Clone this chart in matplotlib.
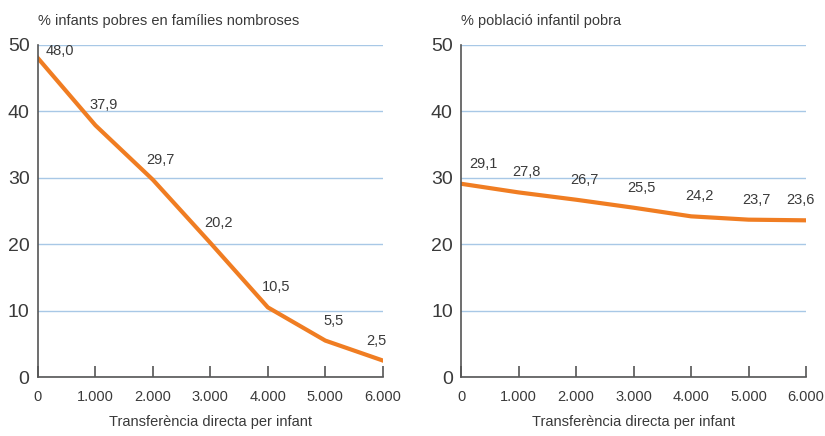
import matplotlib

matplotlib.use("Agg")
import matplotlib.pyplot as plt
from matplotlib.ticker import FuncFormatter

# Data
TRANSFER = [0, 1000, 2000, 3000, 4000, 5000, 6000]
LARGE_FAMILIES = [48.0, 37.9, 29.7, 20.2, 10.5, 5.5, 2.5]
ALL_CHILDREN = [29.1, 27.8, 26.7, 25.5, 24.2, 23.7, 23.6]
TITLES = ["% infants pobres en famílies nombroses", "% població infantil pobra"]
XLABEL = "Transferència directa per infant"

ORANGE = "#f07d22"
GRID = "#a8c8e6"
SPINE = "#555555"
TEXT = "#3a3a3a"

plt.rcParams.update({"font.family": ["Liberation Sans", "DejaVu Sans"]})


def fmt_thousands(x, pos):
    return f"{int(x):,}".replace(",", ".")


def draw(ax, values, title):
    ax.plot(TRANSFER, values, color=ORANGE, lw=3.0, solid_joinstyle="round", zorder=3)
    n = len(values)
    for i, (x, v) in enumerate(zip(TRANSFER, values)):
        # nudge the end labels inward so they stay clear of the frame
        dx = 22 if i == 0 else (-6 if i == n - 1 else 8)
        dy = 7 if v > 45 else 20
        ax.annotate(f"{v:.1f}".replace(".", ","), (x, v), xytext=(dx, dy),
                    textcoords="offset pixels", ha="center", va="center",
                    fontsize=10.5, color=TEXT)

    ax.set_xlim(0, 6000)
    ax.set_ylim(0, 50)
    ax.set_yticks([0, 10, 20, 30, 40, 50])
    ax.set_xticks(TRANSFER)
    ax.xaxis.set_major_formatter(FuncFormatter(fmt_thousands))
    ax.grid(axis="y", color=GRID, lw=1.0, zorder=0)
    ax.set_axisbelow(True)

    for s in ["top", "right"]:
        ax.spines[s].set_visible(False)
    for s in ["left", "bottom"]:
        ax.spines[s].set_color(SPINE)
        ax.spines[s].set_linewidth(1.2)
        ax.spines[s].set_zorder(4)

    ax.tick_params(axis="x", direction="in", length=8, width=1.2, color=SPINE,
                   pad=9, labelsize=10.5, labelcolor=TEXT)
    ax.tick_params(axis="y", length=0, pad=6, labelsize=14, labelcolor=TEXT)
    ax.set_xlabel(XLABEL, fontsize=10.5, color=TEXT, labelpad=8)
    ax.set_title(title, loc="left", fontsize=10.5, color=TEXT, pad=14)


fig = plt.figure(figsize=(8.25, 4.36), dpi=100)
ax1 = fig.add_axes([0.046, 0.135, 0.418, 0.762])
ax2 = fig.add_axes([0.559, 0.135, 0.418, 0.762])

draw(ax1, LARGE_FAMILIES, TITLES[0])
draw(ax2, ALL_CHILDREN, TITLES[1])

fig.savefig("out.png", dpi=100)
